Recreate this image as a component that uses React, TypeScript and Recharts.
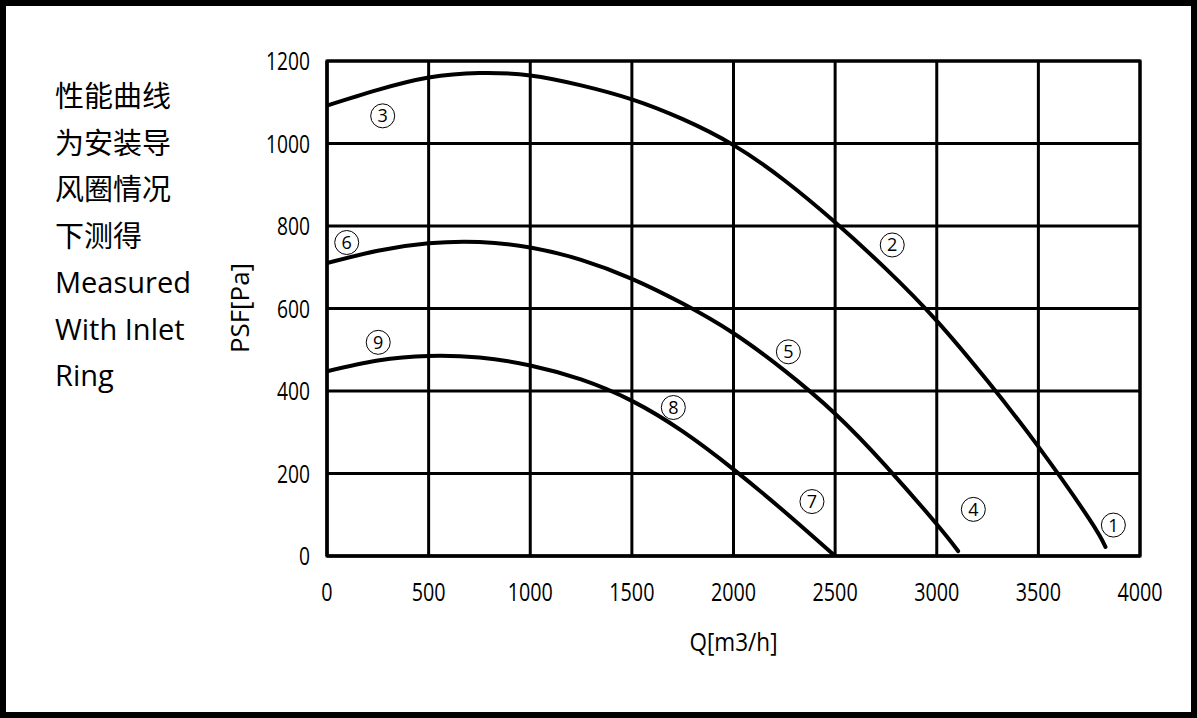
import React from 'react';
import { ComposedChart, Line, Scatter, XAxis, YAxis, CartesianGrid, ReferenceArea } from 'recharts';

const FONT = "'Open Sans', 'Noto Sans CJK SC', sans-serif";

const xTicks = [0, 500, 1000, 1500, 2000, 2500, 3000, 3500, 4000];
const yTicks = [0, 200, 400, 600, 800, 1000, 1200];

// Curve ③-②-①
const curveTopQ = [0, 250, 500, 750, 1000, 1250, 1500, 1750, 2000, 2250, 2500, 2750, 3000, 3250, 3500, 3750, 3830];
const curveTopP = [1092, 1130, 1160, 1171, 1165, 1141, 1107, 1059, 996, 911, 809, 696, 570, 424, 265, 90, 22];

// Curve ⑥-⑤-④
const curveMidQ = [0, 250, 500, 750, 1000, 1250, 1500, 1750, 2000, 2250, 2500, 2750, 3000, 3105];
const curveMidP = [710, 740, 758, 761, 748, 718, 672, 612, 540, 450, 345, 218, 77, 12];

// Curve ⑨-⑧-⑦
const curveLowQ = [0, 250, 500, 750, 1000, 1250, 1500, 1750, 2000, 2250, 2500];
const curveLowP = [448, 474, 485, 481, 462, 428, 376, 302, 210, 108, 0];

// Circled curve markers
const markerQ = [3869, 2781, 274, 3180, 2270, 97, 2386, 1704, 252];
const markerP = [75, 754, 1067, 113, 495, 760, 132, 360, 518];
const markerText = ['1', '2', '3', '4', '5', '6', '7', '8', '9'];

const noteLines = ['性能曲线', '为安装导', '风圈情况', '下测得', 'Measured', 'With Inlet', 'Ring'];

const toPoints = (qs: number[], ps: number[]) => qs.map((q, i) => ({ q, p: ps[i] }));
const topData = toPoints(curveTopQ, curveTopP);
const midData = toPoints(curveMidQ, curveMidP);
const lowData = toPoints(curveLowQ, curveLowP);
const markerData = markerQ.map((q, i) => ({ q, p: markerP[i], t: markerText[i] }));

const YTick = (props: any) => {
  const { x, y, payload } = props;
  const s = String(payload.value);
  return (
    <text x={x} y={y} dy={9} textAnchor="end" fontSize={25} fill="#000" fontFamily={FONT}
      textLength={s.length * 11} lengthAdjust="spacingAndGlyphs">{s}</text>
  );
};

const XTick = (props: any) => {
  const { x, y, payload } = props;
  const s = String(payload.value);
  return (
    <text x={x} y={y} textAnchor="middle" fontSize={25} fill="#000" fontFamily={FONT}
      textLength={s.length * 11.3} lengthAdjust="spacingAndGlyphs">{s}</text>
  );
};

const MarkerShape = (props: any) => {
  const { cx, cy, payload } = props;
  if (cx == null || cy == null) return null;
  return (
    <g>
      <circle cx={cx} cy={cy} r={12} fill="#fff" fillOpacity={0} stroke="#000" strokeWidth={1} />
      <text x={cx} y={cy} dy={6.5} textAnchor="middle" fontSize={18} fill="#000" fontFamily={FONT}>{payload.t}</text>
    </g>
  );
};

const XLabel = (props: any) => {
  const vb = props.viewBox || { x: 327, width: 813, y: 556 };
  return (
    <text x={vb.x + vb.width / 2} y={651} textAnchor="middle" fontSize={25} fill="#000" fontFamily={FONT}
      textLength={88} lengthAdjust="spacingAndGlyphs">Q[m3/h]</text>
  );
};

const YLabel = () => (
  <text x={249} y={308} transform="rotate(-90, 249, 308)" textAnchor="middle" fontSize={25} fill="#000"
    fontFamily={FONT} textLength={90} lengthAdjust="spacingAndGlyphs">PSF[Pa]</text>
);

export default function App() {
  return (
    <div style={{ position: 'absolute', left: 0, top: 0, width: 1197, height: 718, background: '#fff', fontFamily: FONT }}>
      <ComposedChart width={1197} height={718} margin={{ top: 61, right: 57, bottom: 132, left: 267 }}>
        <CartesianGrid stroke="#000" strokeWidth={3} horizontalValues={yTicks} verticalValues={xTicks} />
        <XAxis type="number" dataKey="q" domain={[0, 4000]} ticks={xTicks} interval={0} height={30}
          tickSize={0} tickMargin={45} tick={<XTick />} axisLine={{ stroke: '#000', strokeWidth: 3 }}
          tickLine={false} allowDataOverflow label={<XLabel />} />
        <YAxis type="number" dataKey="p" domain={[0, 1200]} ticks={yTicks} interval={0} width={60}
          tickSize={0} tickMargin={17} tick={<YTick />} axisLine={{ stroke: '#000', strokeWidth: 3 }}
          tickLine={false} allowDataOverflow label={<YLabel />} />
        <ReferenceArea x1={0} x2={4000} y1={0} y2={1200} fill="none" fillOpacity={0} stroke="#000" strokeWidth={3} ifOverflow="visible" />
        <Line data={topData} dataKey="p" type="natural" stroke="#000" strokeWidth={4} dot={false}
          activeDot={false} isAnimationActive={false} strokeLinecap="round" />
        <Line data={midData} dataKey="p" type="natural" stroke="#000" strokeWidth={4} dot={false}
          activeDot={false} isAnimationActive={false} strokeLinecap="round" />
        <Line data={lowData} dataKey="p" type="natural" stroke="#000" strokeWidth={4} dot={false}
          activeDot={false} isAnimationActive={false} strokeLinecap="round" />
        <Scatter data={markerData} dataKey="p" shape={<MarkerShape />} isAnimationActive={false} />
      </ComposedChart>
      <svg width={1197} height={718} style={{ position: 'absolute', left: 0, top: 0, pointerEvents: 'none' }}>
        {noteLines.map((t, i) => (
          <text key={i} x={55} y={107 + i * 46.5} fontSize={29} fill="#000" fontFamily={FONT}>{t}</text>
        ))}
      </svg>
      <div style={{ position: 'absolute', left: 0, top: 0, width: 1197, height: 718, boxSizing: 'border-box',
        border: '6px solid #000', pointerEvents: 'none' }} />
    </div>
  );
}
